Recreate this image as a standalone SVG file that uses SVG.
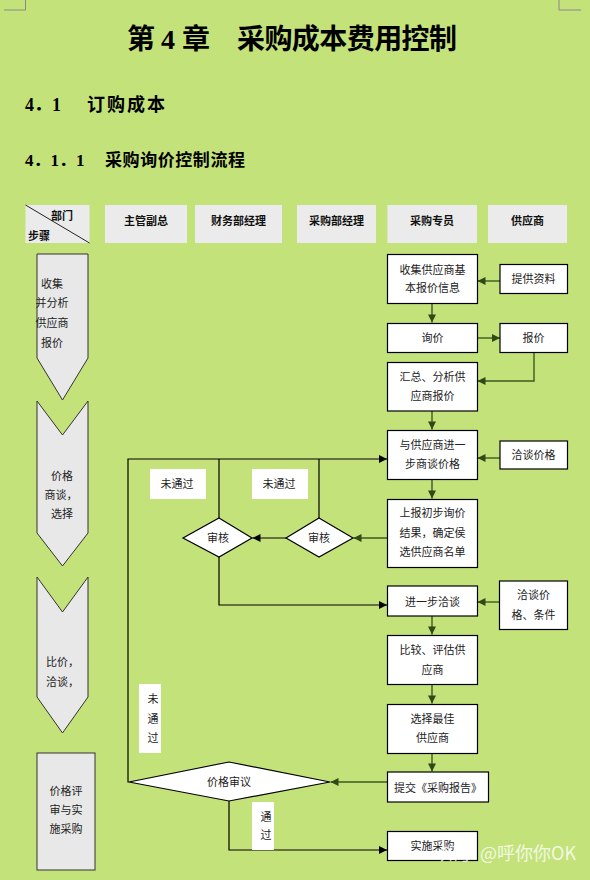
<svg xmlns="http://www.w3.org/2000/svg" width="590" height="880" viewBox="0 0 590 880">
<style>
.t{font-family:"Liberation Sans","Noto Sans CJK SC",sans-serif;font-size:11px;fill:#222;text-anchor:middle}
.ts{text-anchor:start}
.h{font-family:"Liberation Sans","Noto Sans CJK SC",sans-serif;font-size:11px;font-weight:bold;fill:#111;text-anchor:middle}
.ttl{font-family:"Liberation Serif","Noto Sans CJK SC",serif;font-weight:bold;fill:#000}
.hd{fill:#ebebeb}
.box{fill:#fff;stroke:#000;stroke-width:1.2}
.chev{fill:#e8e8e8;stroke:#333;stroke-width:1}
.lbl{fill:#fff}
.dia{fill:#fff;stroke:#000;stroke-width:1.2}
.cg{fill:none;stroke:#3d5a1f;stroke-width:1.4}
.cb{fill:none;stroke:#000;stroke-width:1.2}
</style>
<defs>
<marker id="ag" viewBox="0 0 10 10" refX="10" refY="5" markerWidth="9" markerHeight="8" markerUnits="userSpaceOnUse" orient="auto"><path d="M0,0 L10,5 L0,10 z" fill="#2f4a16"/></marker>
<marker id="ab" viewBox="0 0 10 10" refX="10" refY="5" markerWidth="9" markerHeight="8" markerUnits="userSpaceOnUse" orient="auto"><path d="M0,0 L10,5 L0,10 z" fill="#000"/></marker>
</defs>
<rect x="0" y="0" width="590" height="880" fill="#c4e27a"/>
<path d="M4,10 H25.5 V0 M559,0 V10 H581" fill="none" stroke="#888" stroke-width="1"/>

<text class="ttl" font-size="28" y="49"><tspan x="127">第</tspan><tspan x="161">4</tspan><tspan x="182">章</tspan><tspan x="237" textLength="220" lengthAdjust="spacing">采购成本费用控制</tspan></text>
<text class="ttl" font-size="18" y="111"><tspan x="25">4．1</tspan><tspan x="87" textLength="78" lengthAdjust="spacing">订购成本</tspan></text>
<text class="ttl" font-size="17" y="166"><tspan x="25">4．1．1</tspan><tspan x="105" textLength="140" lengthAdjust="spacing">采购询价控制流程</tspan></text>

<g id="header">
<rect class="hd" x="25.5" y="205" width="64" height="38"/>
<line x1="25.5" y1="205" x2="89.5" y2="243" stroke="#222" stroke-width="1"/>
<text class="h" x="62" y="220">部门</text>
<text class="h" x="39" y="240">步骤</text>
<rect class="hd" x="105" y="205" width="82" height="38"/><text class="h" x="146" y="225">主管副总</text>
<rect class="hd" x="195" y="205" width="87" height="38"/><text class="h" x="238.5" y="225">财务部经理</text>
<rect class="hd" x="297" y="205" width="79" height="38"/><text class="h" x="336.5" y="225">采购部经理</text>
<rect class="hd" x="387.5" y="205" width="89.5" height="38"/><text class="h" x="432" y="225">采购专员</text>
<rect class="hd" x="488" y="205" width="79" height="38"/><text class="h" x="527.5" y="225">供应商</text>
</g>

<g id="step1"><polygon class="chev" points="37,254 88,254 88,358 62.5,400 37,358"/>
<text class="t" x="52" y="288">收集</text><text class="t" x="52" y="307">并分析</text><text class="t" x="52" y="327">供应商</text><text class="t" x="52" y="347">报价</text></g>
<g id="step2"><polygon class="chev" points="37,401 62.5,435 88,401 88,533 62.5,566 37,533"/>
<text class="t" x="62" y="480">价格</text><text class="t" x="61" y="499">商谈，</text><text class="t" x="62" y="518">选择</text></g>
<g id="step3"><polygon class="chev" points="37,577 62.5,612 88,577 88,697 62.5,733 37,697"/>
<text class="t ts" x="46" y="666">比价，</text><text class="t ts" x="46" y="686">洽谈，</text></g>
<g id="step4"><rect class="chev" x="37" y="753" width="58" height="117"/>
<text class="t" x="66" y="795">价格评</text><text class="t" x="66" y="814">审与实</text><text class="t" x="66" y="833">施采购</text></g>

<g id="connectors">
<path class="cg" d="M432,303.5 V322.5" marker-end="url(#ag)"/>
<path class="cg" d="M500,281 H477.5" marker-end="url(#ag)"/>
<path class="cg" d="M477.5,338 H500" marker-end="url(#ag)"/>
<path class="cg" d="M534,352 V381 H477.5" marker-end="url(#ag)"/>
<path class="cg" d="M432,411 V429.5" marker-end="url(#ag)"/>
<path class="cg" d="M500,458 H477.5" marker-end="url(#ag)"/>
<path class="cg" d="M432,479.5 V498.5" marker-end="url(#ag)"/>
<path class="cg" d="M387,538 H353.5" marker-end="url(#ag)"/>
<path class="cg" d="M499,602 H477.5" marker-end="url(#ag)"/>
<path class="cg" d="M432,616 V634.5" marker-end="url(#ag)"/>
<path class="cg" d="M432,684.5 V703.5" marker-end="url(#ag)"/>
<path class="cg" d="M432,753.5 V771.5" marker-end="url(#ag)"/>
<path class="cg" d="M387,782 H330.5" marker-end="url(#ag)"/>
<path class="cb" d="M286,538 H252.5" marker-end="url(#ab)"/>
<path class="cb" d="M319,518 V459"/>
<path class="cb" d="M219,518 V459"/>
<path class="cb" d="M129,782 H128 V459 H387" marker-end="url(#ab)"/>
<path class="cb" d="M219,557 V605 H387" marker-end="url(#ab)"/>
<path class="cb" d="M229,801 V850 H387" marker-end="url(#ab)"/>
</g>

<g id="n-collect"><rect class="box" x="387.5" y="254.5" width="90" height="49"/><text class="t" x="432.5" y="274">收集供应商基</text><text class="t" x="432.5" y="292">本报价信息</text></g>
<g id="n-provide"><rect class="box" x="500" y="264.5" width="67.5" height="29"/><text class="t" x="533.5" y="283">提供资料</text></g>
<g id="n-inquire"><rect class="box" x="387.5" y="323.5" width="90" height="29"/><text class="t" x="432.5" y="342">询价</text></g>
<g id="n-quote"><rect class="box" x="500" y="323.5" width="67.5" height="29"/><text class="t" x="533.5" y="342">报价</text></g>
<g id="n-summary"><rect class="box" x="387.5" y="362.5" width="90" height="48.5"/><text class="t" x="432.5" y="381">汇总、分析供</text><text class="t" x="432.5" y="400">应商报价</text></g>
<g id="n-negotiate"><rect class="box" x="387.5" y="430.5" width="90" height="49"/><text class="t" x="432.5" y="449">与供应商进一</text><text class="t" x="432.5" y="468">步商谈价格</text></g>
<g id="n-negprice"><rect class="box" x="500" y="441" width="67.5" height="28"/><text class="t" x="533.5" y="459">洽谈价格</text></g>
<g id="n-report"><rect class="box" x="387.5" y="499.5" width="90" height="68"/><text class="t" x="432.5" y="517">上报初步询价</text><text class="t" x="432.5" y="537">结果，确定侯</text><text class="t" x="432.5" y="556">选供应商名单</text></g>
<g id="n-further"><rect class="box" x="387.5" y="586" width="90" height="30"/><text class="t" x="432.5" y="605.5">进一步洽谈</text></g>
<g id="n-negcond"><rect class="box" x="499.5" y="581" width="68" height="48.5"/><text class="t" x="533.5" y="599">洽谈价</text><text class="t" x="533.5" y="619">格、条件</text></g>
<g id="n-compare"><rect class="box" x="387.5" y="635.5" width="90" height="49"/><text class="t" x="432.5" y="654">比较、评估供</text><text class="t" x="432.5" y="674">应商</text></g>
<g id="n-select"><rect class="box" x="387.5" y="704.5" width="90" height="49"/><text class="t" x="432.5" y="723">选择最佳</text><text class="t" x="432.5" y="742">供应商</text></g>
<g id="n-submit"><rect class="box" x="387.5" y="772" width="101" height="30"/><text class="t" x="438" y="791.5">提交《采购报告》</text></g>
<g id="n-execute"><rect class="box" x="387.5" y="831.5" width="90" height="29"/><text class="t" x="432.5" y="850">实施采购</text></g>

<g id="d-review1"><polygon class="dia" points="219,518 252,538 219,557 183,538"/><text class="t" x="218" y="542">审核</text></g>
<g id="d-review2"><polygon class="dia" points="319,518 353,538 319,557 286,538"/><text class="t" x="319" y="542">审核</text></g>
<g id="d-price"><polygon class="dia" points="229,762 330,782 229,801 129,782"/><text class="t" x="229" y="786">价格审议</text></g>

<g id="labels">
<rect class="lbl" x="150" y="469" width="56" height="30"/><text class="t" x="177" y="488">未通过</text>
<rect class="lbl" x="252" y="469" width="56" height="30"/><text class="t" x="279" y="488">未通过</text>
<rect class="lbl" x="139" y="684" width="22" height="69"/><text class="t" x="153" y="703">未</text><text class="t" x="153" y="723">通</text><text class="t" x="153" y="742">过</text>
<rect class="lbl" x="252" y="802" width="22" height="48"/><text class="t" x="266" y="821">通</text><text class="t" x="266" y="839">过</text>
</g>
<text x="440" y="860" font-family="'Noto Sans CJK SC',sans-serif" font-size="18" fill="#fff" fill-opacity="0.8">知乎 @呼你你OK</text>
</svg>
